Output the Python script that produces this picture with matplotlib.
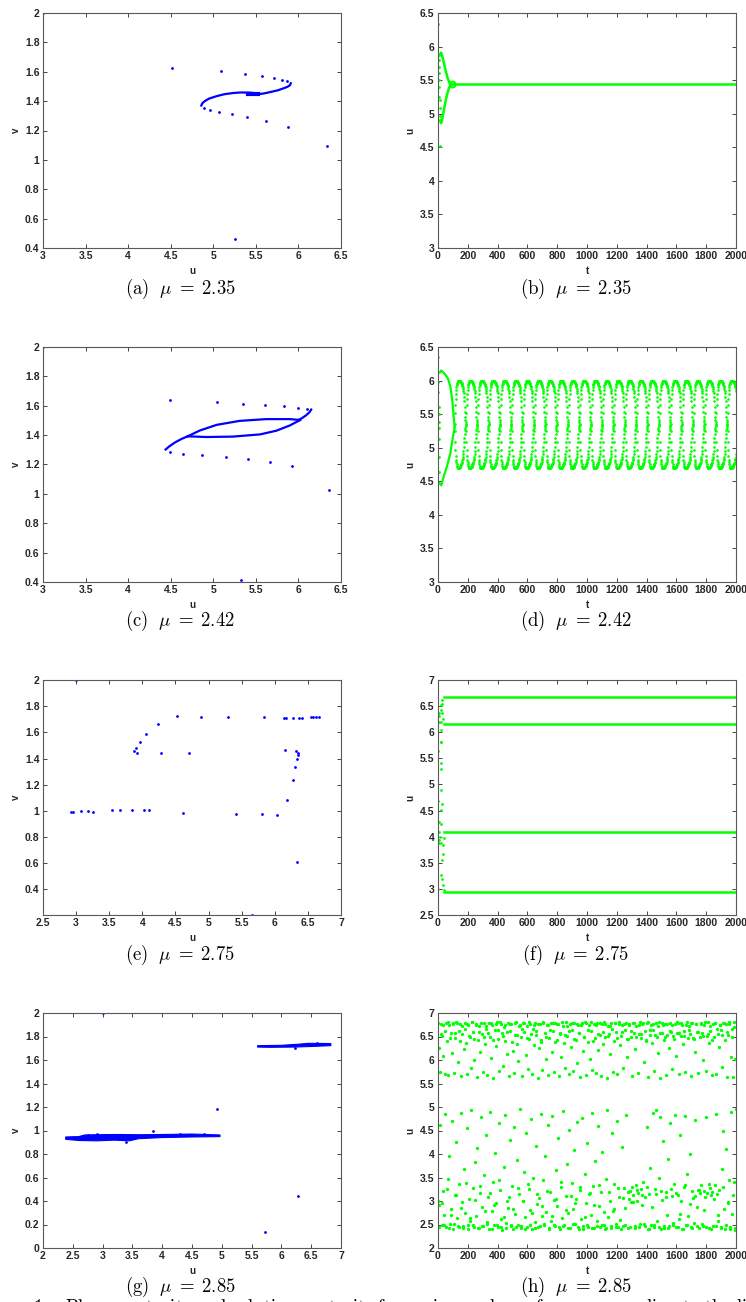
import matplotlib
matplotlib.use('Agg')
import matplotlib.pyplot as plt
import numpy as np

plt.rcParams['mathtext.fontset'] = 'cm'
plt.rcParams['font.family'] = ['Liberation Sans', 'DejaVu Sans']

BLUE = (0, 0, 1)
GREEN = (0, 1, 0)

# ---------------- (a) mu = 2.35, phase portrait ----------------
a_u_pts = [3.0, 4.52, 5.09, 5.37, 5.57, 5.71, 5.81, 5.87, 5.873, 5.615, 5.40,
           5.22, 5.07, 4.96, 4.89, 6.34, 5.26]
a_v_pts = [2.0, 1.628, 1.603, 1.585, 1.569, 1.555, 1.544, 1.535, 1.224, 1.263,
           1.290, 1.310, 1.326, 1.342, 1.353, 1.092, 0.463]
a_left_u = [4.86, 4.87, 4.90, 4.95, 5.04, 5.13, 5.23, 5.32, 5.42, 5.48]
a_left_v = [1.370, 1.385, 1.400, 1.417, 1.434, 1.447, 1.455, 1.459, 1.458, 1.455]
a_right_u = [5.91, 5.90, 5.87, 5.82, 5.76, 5.68, 5.60, 5.53, 5.47]
a_right_v = [1.522, 1.508, 1.497, 1.486, 1.474, 1.463, 1.453, 1.447, 1.445]
a_fix_u = [5.41, 5.52]
a_fix_v = [1.450, 1.450]

# ---------------- (b) mu = 2.35, time series ----------------
b_t_pts = [0, 1, 4, 5, 6, 7, 8, 9, 10, 11, 12, 13, 14]
b_u_pts = [3.0, 6.33, 5.88, 5.80, 5.70, 5.60, 5.50, 5.40, 5.25, 5.20, 5.08, 4.96, 4.52]
b_up_t = [14, 20, 25, 35, 45, 55, 65, 75, 85]
b_up_u = [5.88, 5.91, 5.89, 5.80, 5.70, 5.61, 5.53, 5.47, 5.44]
b_lo_t = [14, 20, 25, 35, 45, 55, 65, 75, 85]
b_lo_u = [4.90, 4.86, 4.88, 5.00, 5.12, 5.23, 5.32, 5.39, 5.42]
b_fix_t = [95, 2000]
b_fix_u = [5.44, 5.44]

# ---------------- (c) mu = 2.42, phase portrait ----------------
c_u_pts = [3.0, 4.49, 5.04, 5.35, 5.61, 5.83, 6.00, 6.10, 5.93, 5.665, 5.41,
           5.15, 4.87, 4.64, 4.49, 6.36, 5.32]
c_v_pts = [2.0, 1.64, 1.624, 1.613, 1.604, 1.595, 1.588, 1.581, 1.19, 1.219,
           1.235, 1.251, 1.263, 1.274, 1.288, 1.028, 0.414]
c_tail1_u = [4.44, 4.48, 4.55, 4.63, 4.70]
c_tail1_v = [1.302, 1.322, 1.350, 1.375, 1.392]
c_upper_u = [4.70, 4.84, 5.04, 5.31, 5.62, 5.90, 6.02]
c_upper_v = [1.392, 1.431, 1.470, 1.497, 1.509, 1.509, 1.503]
c_lower_u = [6.02, 5.90, 5.74, 5.55, 5.23, 4.92, 4.70]
c_lower_v = [1.503, 1.466, 1.430, 1.405, 1.390, 1.387, 1.392]
c_tail2_u = [6.15, 6.13, 6.09, 6.04, 6.00]
c_tail2_v = [1.574, 1.556, 1.535, 1.515, 1.503]

# ---------------- (d) mu = 2.42, time series ----------------
d_t_pts = [0, 1, 2, 3, 4, 5, 6, 7, 8, 9, 10]
d_u_pts = [3.0, 6.35, 5.98, 5.83, 5.60, 5.50, 5.38, 5.30, 5.13, 4.86, 4.64]
d_up_t = [12, 22, 45, 67, 83, 96, 105, 112]
d_up_u = [6.12, 6.15, 6.10, 6.03, 5.91, 5.71, 5.46, 5.30]
d_lo_t = [11, 22, 38, 60, 83, 100, 112]
d_lo_u = [4.47, 4.44, 4.57, 4.72, 4.92, 5.16, 5.30]
# start of each oscillation (left tip of every lens)
d_cycle_start = [112, 188, 265, 341, 417, 493, 570, 646, 722, 798, 875, 951,
                 1027, 1103, 1180, 1256, 1332, 1408, 1485, 1561, 1637, 1713,
                 1790, 1866, 1942]
# one oscillation: even steps on the upper branch, odd steps on the lower
d_up_shape = [5.36, 5.52, 5.64, 5.73, 5.80, 5.86, 5.90, 5.93, 5.955, 5.97, 5.98,
              5.99, 5.995, 5.998, 6.0, 6.0, 6.0, 5.998, 5.995, 5.99, 5.985, 5.98,
              5.97, 5.96, 5.95, 5.935, 5.92, 5.90, 5.88, 5.85, 5.81, 5.76, 5.69,
              5.61, 5.53, 5.46, 5.41, 5.38]
d_lo_shape = [5.25, 5.08, 4.96, 4.88, 4.82, 4.78, 4.75, 4.73, 4.715, 4.705, 4.70,
              4.70, 4.70, 4.70, 4.70, 4.705, 4.71, 4.715, 4.72, 4.73, 4.74, 4.75,
              4.76, 4.775, 4.79, 4.81, 4.83, 4.86, 4.90, 4.95, 5.01, 5.08, 5.15,
              5.21, 5.26, 5.30, 5.32, 5.34]

# ---------------- (e) mu = 2.75, phase portrait ----------------
e_u_pts = [3.0, 4.52, 4.89, 5.29, 5.84, 6.14, 6.17, 6.28, 6.36, 6.41, 6.54, 6.58,
           6.63, 6.67, 4.24, 4.06, 3.97, 3.91, 3.87, 3.92, 4.28, 4.70, 6.15, 6.32,
           6.35, 6.35, 6.33, 6.31, 6.27, 6.19, 2.92, 2.96, 3.08, 3.18, 3.26, 3.54,
           3.66, 3.84, 4.02, 4.10, 4.62, 5.41, 5.81, 6.04, 6.33, 5.65]
e_v_pts = [2.0, 1.722, 1.717, 1.719, 1.717, 1.709, 1.709, 1.709, 1.712, 1.712,
           1.717, 1.714, 1.714, 1.714, 1.666, 1.587, 1.523, 1.482, 1.459, 1.444,
           1.439, 1.439, 1.462, 1.459, 1.446, 1.426, 1.395, 1.337, 1.235, 1.087,
           0.995, 0.995, 0.997, 1.003, 0.995, 1.008, 1.008, 1.008, 1.010, 1.010,
           0.987, 0.980, 0.980, 0.969, 0.613, 0.205]

# ---------------- (f) mu = 2.75, time series ----------------
f_t_pts = [0, 2, 4, 4, 7, 7, 9, 11, 7, 18, 18, 20, 22, 22, 22, 25, 18, 27, 29,
           34, 20, 25, 18, 18, 31, 27, 22, 29, 34, 38, 0, 18, 34, 38, 22, 0, 4]
f_u_pts = [5.64, 4.69, 4.28, 6.20, 6.37, 3.93, 4.09, 4.00, 3.87, 6.52, 6.20,
           6.05, 5.82, 5.42, 5.29, 6.55, 5.81, 6.36, 6.61, 6.26, 4.90, 4.62,
           4.52, 4.24, 3.66, 3.55, 3.26, 3.19, 3.08, 2.97, 3.0, 3.88, 3.84, 3.97,
           6.42, 6.33, 6.31]
f_levels = [6.67, 6.15, 4.09, 2.94]
f_level_t = [38, 2000]

# ---------------- (g) mu = 2.85, phase portrait ----------------
g_u_pts = [3.0, 4.92, 3.84, 6.28, 5.73, 6.23, 2.90, 3.40, 4.70, 6.60, 2.75, 4.30]
g_v_pts = [2.0, 1.185, 0.994, 0.44, 0.136, 1.70, 0.966, 0.905, 0.972, 1.745,
           0.958, 0.968]
g_low_u = [2.38, 2.60, 2.70, 3.00, 3.30, 3.60, 4.00, 4.50, 4.97,
           4.97, 4.50, 4.00, 3.60, 3.45, 3.20, 2.90, 2.60, 2.38]
g_low_v = [0.945, 0.948, 0.962, 0.965, 0.966, 0.964, 0.966, 0.970, 0.962,
           0.948, 0.945, 0.940, 0.930, 0.912, 0.918, 0.912, 0.915, 0.925]
g_up_u = [5.60, 6.00, 6.30, 6.45, 6.83, 6.83, 6.50, 6.20, 5.80, 5.60]
g_up_v = [1.722, 1.725, 1.735, 1.742, 1.740, 1.722, 1.715, 1.710, 1.708, 1.710]

# ---------------- (h) mu = 2.85, time series ----------------
# u read at every 4th step (t = 0, 4, ..., 2000)
h_t = np.arange(0, 2001, 4)
h_u = [
    3.00, 6.25, 2.92, 5.75, 4.62, 6.77, 2.48, 6.52, 3.21, 6.08, 2.71, 5.70, 4.85, 6.79, 2.44, 6.41, 3.47, 5.68, 3.95, 6.74,
    2.52, 6.58, 2.83, 6.15, 4.71, 6.78, 2.41, 5.72, 3.12, 6.46, 4.25, 6.80, 2.63, 5.95, 2.47, 6.62, 3.36, 6.76, 4.88, 5.66,
    2.98, 6.55, 2.43, 6.23, 3.68, 6.79, 2.75, 6.37, 4.55, 5.71, 2.50, 6.75, 3.05, 6.49, 2.58, 5.83, 4.93, 6.80, 3.28, 6.60,
    2.45, 6.01, 3.82, 6.77, 2.69, 5.64, 4.12, 6.43, 2.42, 6.72, 3.17, 6.18, 4.78, 6.56, 2.88, 5.74, 2.46, 6.79, 3.55, 6.35,
    4.40, 6.66, 2.56, 5.69, 3.09, 6.78, 2.40, 6.50, 4.90, 6.05, 2.79, 6.74, 3.41, 5.61, 2.49, 6.63, 4.02, 6.29, 2.95, 6.80,
    2.44, 6.45, 4.67, 5.76, 3.24, 6.77, 2.61, 6.57, 2.39, 5.88, 3.73, 6.71, 4.83, 6.40, 2.53, 6.12, 3.00, 6.79, 2.86, 5.67,
    4.30, 6.61, 2.47, 6.76, 3.32, 6.20, 2.41, 5.73, 4.58, 6.53, 2.72, 6.80, 3.88, 6.34, 2.50, 5.97, 3.15, 6.75, 4.95, 6.48,
    2.43, 5.65, 2.99, 6.78, 3.62, 6.59, 2.66, 6.10, 4.45, 6.73, 2.45, 5.80, 3.26, 6.44, 2.81, 6.77, 4.74, 5.70, 2.40, 6.65,
    3.50, 6.32, 2.55, 6.79, 4.18, 6.54, 2.93, 5.62, 2.44, 6.25, 3.07, 6.76, 4.86, 6.38, 2.68, 5.78, 3.44, 6.80, 2.48, 6.58,
    3.95, 6.03, 2.77, 6.74, 4.62, 5.68, 2.42, 6.47, 3.19, 6.78, 2.57, 6.16, 4.80, 6.62, 3.02, 5.74, 2.46, 6.79, 3.67, 6.42,
    2.90, 6.77, 4.35, 5.66, 2.41, 6.55, 3.30, 6.07, 2.64, 6.73, 4.91, 6.36, 2.49, 5.83, 3.11, 6.80, 3.79, 6.51, 2.74, 5.71,
    4.52, 6.76, 2.43, 6.28, 3.38, 6.64, 2.84, 5.76, 4.08, 6.79, 2.52, 6.43, 3.04, 5.93, 4.69, 6.75, 2.40, 6.57, 3.23, 5.64,
    2.62, 6.78, 4.76, 6.19, 2.47, 6.49, 3.58, 6.80, 2.96, 5.69, 4.23, 6.39, 2.44, 6.74, 3.14, 6.02, 2.70, 6.61, 4.87, 5.79,
    3.31, 6.77, 2.42, 6.46, 3.85, 5.73, 2.58, 6.79, 4.60, 6.22, 2.89, 6.54, 2.45, 5.66, 3.20, 6.76, 4.05, 6.35, 2.50, 6.80,
    2.41, 6.48, 3.46, 5.62, 4.94, 6.72, 2.67, 6.56, 3.01, 6.12, 2.43, 6.78, 4.44, 5.75, 2.78, 6.40, 3.36, 6.79, 2.51, 6.60,
    4.70, 5.71, 2.44, 6.77, 3.09, 6.31, 2.60, 6.52, 4.15, 6.74, 2.46, 5.84, 3.27, 6.63, 2.85, 6.79, 4.82, 6.06, 2.42, 6.45,
    3.05, 6.76, 3.22, 6.50, 2.97, 5.67, 3.30, 6.78, 3.12, 6.58, 2.47, 6.24, 3.34, 6.73, 3.00, 5.72, 3.18, 6.55, 2.44, 6.80,
    3.26, 6.47, 2.92, 6.77, 3.40, 5.95, 2.52, 6.61, 3.08, 6.41, 4.57, 6.79, 2.41, 5.64, 3.15, 6.53, 3.71, 6.75, 2.48, 6.36,
    4.88, 6.63, 2.45, 5.77, 3.25, 6.78, 4.93, 6.49, 2.58, 6.14, 3.48, 6.80, 4.79, 5.61, 2.40, 6.57, 3.03, 6.74, 4.28, 6.43,
    2.43, 6.77, 3.19, 5.69, 2.71, 6.54, 3.90, 6.26, 2.46, 6.79, 4.66, 6.60, 3.10, 5.80, 2.54, 6.52, 3.37, 6.76, 4.84, 6.09,
    2.44, 6.58, 3.13, 6.78, 2.62, 5.70, 4.41, 6.51, 2.99, 6.75, 2.41, 6.33, 3.29, 6.62, 4.81, 5.74, 2.49, 6.80, 3.57, 6.47,
    2.68, 6.73, 4.00, 6.55, 2.45, 5.66, 3.21, 6.79, 3.06, 6.44, 2.53, 6.18, 4.72, 6.77, 2.87, 6.59, 3.24, 5.72, 2.43, 6.50,
    3.16, 6.78, 3.33, 6.57, 2.47, 6.00, 3.22, 6.74, 3.09, 5.76, 4.79, 6.52, 3.18, 6.80, 2.42, 6.37, 3.27, 6.61, 3.12, 5.68,
    3.20, 6.76, 2.46, 6.48, 3.35, 6.79, 4.86, 5.71, 3.14, 6.56, 2.58, 6.27, 3.23, 6.75, 2.44, 6.63, 3.69, 5.86, 4.50, 6.78,
    2.83, 6.42, 2.41, 6.77, 4.10, 5.63, 2.95, 6.53, 3.45, 6.80, 2.40, 6.07, 4.89, 6.66, 2.73, 5.64, 3.41, 6.70, 2.38, 6.03,
    4.96,
]
# extra reading of the densest rows (t = 2, 10, ..., 1994)
h_t2 = np.arange(2, 2000, 8)
h_u2 = [
    6.78, 2.45, 6.55, 2.95, 6.74, 2.49, 6.62, 3.25, 6.80, 2.42,
    6.47, 2.71, 6.76, 2.51, 6.58, 3.12, 6.79, 2.44, 6.40, 2.86,
    6.73, 2.47, 6.66, 3.38, 6.77, 2.40, 6.52, 2.63, 6.80, 2.50,
    6.44, 3.02, 6.75, 2.43, 6.60, 3.31, 6.78, 2.46, 6.49, 2.78,
    6.72, 2.52, 6.57, 3.18, 6.79, 2.41, 6.42, 2.92, 6.76, 2.48,
    6.63, 3.44, 6.80, 2.45, 6.51, 2.67, 6.74, 2.42, 6.59, 3.08,
    6.77, 2.50, 6.38, 2.83, 6.79, 2.44, 6.54, 3.27, 6.73, 2.47,
    6.65, 2.99, 6.78, 2.41, 6.46, 3.36, 6.80, 2.49, 6.56, 2.74,
    6.75, 2.43, 6.61, 3.14, 6.77, 2.46, 6.43, 2.89, 6.79, 2.52,
    6.50, 3.22, 6.74, 2.40, 6.64, 2.69, 6.78, 2.48, 6.39, 3.05,
    6.76, 2.44, 6.58, 3.41, 6.80, 2.47, 6.53, 2.80, 6.72, 2.42,
    6.62, 3.10, 6.79, 2.51, 6.45, 2.96, 6.77, 2.45, 6.57, 3.29,
    6.75, 2.41, 6.48, 2.65, 6.78, 2.49, 6.63, 3.16, 6.80, 2.43,
    6.41, 2.91, 6.74, 2.46, 6.55, 3.35, 6.79, 2.50, 6.60, 2.76,
    6.76, 2.42, 6.52, 3.20, 6.73, 2.47, 6.66, 2.84, 6.78, 2.44,
    6.47, 3.28, 6.80, 2.41, 6.59, 3.06, 6.77, 2.48, 6.44, 3.19,
    6.75, 2.45, 6.61, 2.98, 6.79, 2.43, 6.50, 3.24, 6.74, 2.51,
    6.56, 3.12, 6.78, 2.46, 6.42, 3.30, 6.80, 2.40, 6.63, 2.88,
    6.76, 2.49, 6.54, 3.15, 6.73, 2.44, 6.58, 3.21, 6.79, 2.47,
    6.49, 3.09, 6.77, 2.42, 6.62, 3.26, 6.75, 2.50, 6.45, 3.17,
    6.80, 2.45, 6.57, 2.73, 6.78, 2.41, 6.52, 3.33, 6.74, 2.48,
    6.64, 2.94, 6.79, 2.43, 6.46, 3.11, 6.76, 2.46, 6.60, 3.23,
    6.77, 2.52, 6.51, 2.81, 6.80, 2.44, 6.55, 3.37, 6.73, 2.40,
    6.43, 3.04, 6.78, 2.47, 6.65, 2.70, 6.75, 2.42, 6.53, 3.30,
    6.79, 2.49, 6.59, 2.97, 6.76, 2.45, 6.48, 3.13, 6.80, 2.43,
]

captions = ['(a)', '(b)', '(c)', '(d)', '(e)', '(f)', '(g)', '(h)']
mu_values = ['2.35', '2.35', '2.42', '2.42', '2.75', '2.75', '2.85', '2.85']

# ---------------- layout ----------------
W, H = 746, 1302
fig = plt.figure(figsize=(W / 100, H / 100), dpi=100)
col_x = [43, 438]
row_top = [13, 347, 680, 1013]
ax_w, ax_h = 298, 235
cap_x = [180, 576]
cap_y = [289, 621, 955, 1287]

axes = []
for r in range(4):
    for c in range(2):
        ax = fig.add_axes([col_x[c] / W, 1 - (row_top[r] + ax_h) / H, ax_w / W, ax_h / H])
        axes.append(ax)


def fmt(x):
    return '%g' % round(x, 2)


def style(ax, xlim, ylim, xticks, yticks, xlabel, ylabel):
    ax.set_xlim(xlim)
    ax.set_ylim(ylim)
    ax.set_xticks(xticks)
    ax.set_yticks(yticks)
    ax.set_xticklabels([fmt(x) for x in xticks], fontweight='bold')
    ax.set_yticklabels([fmt(y) for y in yticks], fontweight='bold')
    ax.tick_params(direction='in', top=True, right=True, length=3, width=0.6,
                   colors='#262626', labelsize=7.5, pad=2.5)
    for s in ax.spines.values():
        s.set_color('#595959')
        s.set_linewidth(0.8)
    ax.set_xlabel(xlabel, fontsize=7, fontweight='bold', labelpad=3, color='#262626')
    ax.set_ylabel(ylabel, fontsize=7, fontweight='bold', labelpad=3, color='#262626')


dot = dict(ls='none', marker='o', ms=2.0, mew=0)

# (a)
ax = axes[0]
ax.plot(a_left_u, a_left_v, color=BLUE, lw=1.6)
ax.plot(a_right_u, a_right_v, color=BLUE, lw=1.6)
ax.plot(a_fix_u, a_fix_v, color=BLUE, lw=3)
ax.plot(a_u_pts, a_v_pts, color=BLUE, **dot)
style(ax, (3, 6.5), (0.4, 2), np.arange(3, 6.51, 0.5), np.arange(0.4, 2.01, 0.2), 'u', 'v')

# (b)
ax = axes[1]
ax.plot(b_up_t, b_up_u, color=GREEN, lw=1.8)
ax.plot(b_lo_t, b_lo_u, color=GREEN, lw=1.8)
ax.plot(b_fix_t, b_fix_u, color=GREEN, lw=1.8)
ax.plot([b_fix_t[0]], [b_fix_u[0]], ls='none', marker='o', ms=4.3, mfc='none',
        mec=GREEN, mew=1.4)
ax.plot(b_t_pts, b_u_pts, color=GREEN, **dot)
style(ax, (0, 2000), (3, 6.5), np.arange(0, 2001, 200), np.arange(3, 6.51, 0.5), 't', 'u')

# (c)
ax = axes[2]
for cu, cv in [(c_tail1_u, c_tail1_v), (c_upper_u, c_upper_v),
               (c_lower_u, c_lower_v), (c_tail2_u, c_tail2_v)]:
    ax.plot(cu, cv, color=BLUE, lw=1.6)
ax.plot(c_u_pts, c_v_pts, color=BLUE, **dot)
style(ax, (3, 6.5), (0.4, 2), np.arange(3, 6.51, 0.5), np.arange(0.4, 2.01, 0.2), 'u', 'v')

# (d)
ax = axes[3]
ax.plot(d_up_t, d_up_u, color=GREEN, lw=1.6)
ax.plot(d_lo_t, d_lo_u, color=GREEN, lw=1.6)
dt, du = [], []
for c0 in d_cycle_start:
    for i, val in enumerate(d_up_shape):
        dt.append(c0 + 2 * i)
        du.append(val)
    for i, val in enumerate(d_lo_shape):
        dt.append(c0 + 2 * i + 1)
        du.append(val)
dt, du = np.array(dt), np.array(du)
keep = dt <= 2000
ax.plot(dt[keep], du[keep], color=GREEN, ls='none', marker='o', ms=1.9, mew=0)
ax.plot(d_t_pts, d_u_pts, color=GREEN, **dot)
style(ax, (0, 2000), (3, 6.5), np.arange(0, 2001, 200), np.arange(3, 6.51, 0.5), 't', 'u')

# (e)
ax = axes[4]
ax.plot(e_u_pts, e_v_pts, color=BLUE, **dot)
style(ax, (2.5, 7), (0.205, 2), np.arange(2.5, 7.01, 0.5), np.arange(0.4, 2.01, 0.2), 'u', 'v')

# (f)
ax = axes[5]
for lev in f_levels:
    ax.plot(f_level_t, [lev, lev], color=GREEN, lw=1.8)
ax.plot(f_t_pts, f_u_pts, color=GREEN, **dot)
style(ax, (0, 2000), (2.5, 7), np.arange(0, 2001, 200), np.arange(2.5, 7.01, 0.5), 't', 'u')

# (g)
ax = axes[6]
ax.fill(g_low_u, g_low_v, color=BLUE, lw=0.8)
ax.fill(g_up_u, g_up_v, color=BLUE, lw=0.8)
ax.plot(g_u_pts, g_v_pts, color=BLUE, **dot)
style(ax, (2, 7), (0, 2), np.arange(2, 7.01, 0.5), np.arange(0, 2.01, 0.2), 'u', 'v')

# (h)
ax = axes[7]
ax.plot(h_t, h_u, color=GREEN, ls='none', marker='o', ms=2.4, mew=0)
ax.plot(h_t2, h_u2, color=GREEN, ls='none', marker='o', ms=2.4, mew=0)
style(ax, (0, 2000), (2, 7), np.arange(0, 2001, 200), np.arange(2, 7.01, 0.5), 't', 'u')

# captions
for k in range(8):
    r, c = divmod(k, 2)
    fig.text(cap_x[c] / W, 1 - cap_y[r] / H,
             r'$\mathrm{%s}\ \ \mu\;=\;%s$' % (captions[k], mu_values[k]),
             ha='center', va='center', fontsize=13.5)

fig.text(33 / W, 1 - 1297 / H,
         r'$\mathrm{1{:}\ \ Phase\ portraits\ and\ solution\ portraits\ for\ various\ values\ of\ }'
         r'\mu\mathrm{\ corresponding\ to\ the\ li}$',
         ha='left', va='top', fontsize=13.5)

fig.savefig('out.png', dpi=100)
